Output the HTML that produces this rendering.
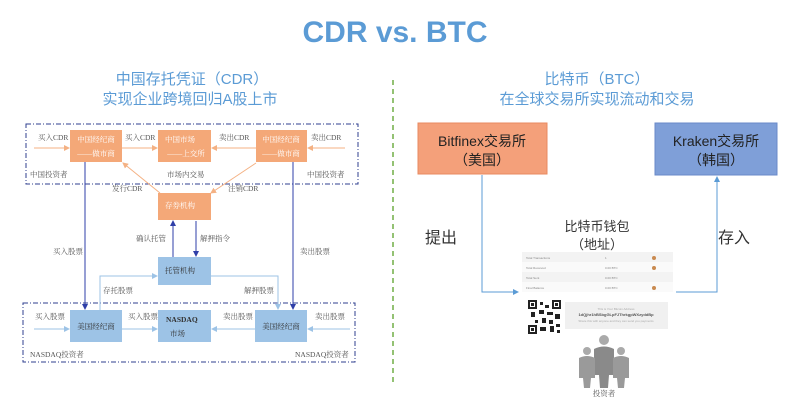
<!DOCTYPE html>
<html><head><meta charset="utf-8"><style>
html,body{margin:0;padding:0;background:#fff;}
svg{display:block;}
.s{font-family:"Liberation Serif","Noto Serif CJK SC",serif;font-size:7.5px;fill:#555;}
.w{font-family:"Liberation Serif","Noto Serif CJK SC",serif;font-size:7.5px;fill:#fff;}
.k{font-family:"Liberation Serif","Noto Serif CJK SC",serif;font-size:7.5px;fill:#333;}
.t{font-family:"Liberation Sans","Noto Sans CJK SC",sans-serif;}
</style></head><body>
<svg width="790" height="401" viewBox="0 0 790 401" xmlns="http://www.w3.org/2000/svg">
<defs>
<marker id="ao" markerWidth="6" markerHeight="6" refX="5" refY="3" orient="auto"><path d="M0,0L6,3L0,6z" fill="#f4b183"/></marker>
<marker id="ab" markerWidth="6" markerHeight="6" refX="5" refY="3" orient="auto"><path d="M0,0L6,3L0,6z" fill="#9dc3e6"/></marker>
<marker id="ad" markerWidth="6" markerHeight="6" refX="5" refY="3" orient="auto"><path d="M0,0L6,3L0,6z" fill="#2f3fa8"/></marker>
<marker id="am" markerWidth="6" markerHeight="6" refX="5" refY="3" orient="auto"><path d="M0,0L6,3L0,6z" fill="#5b9bd5"/></marker>
</defs>
<text x="395" y="42" text-anchor="middle" class="t" font-size="30" font-weight="bold" fill="#5b9bd5">CDR vs. BTC</text>
<text x="192" y="84" text-anchor="middle" class="t" font-size="15" fill="#5b9bd5">中国存托凭证（CDR）</text>
<text x="190" y="104" text-anchor="middle" class="t" font-size="15" fill="#5b9bd5">实现企业跨境回归A股上市</text>
<text x="597" y="84" text-anchor="middle" class="t" font-size="15" fill="#5b9bd5">比特币（BTC）</text>
<text x="597" y="104" text-anchor="middle" class="t" font-size="15" fill="#5b9bd5">在全球交易所实现流动和交易</text>
<line x1="393" y1="80" x2="393" y2="382" stroke="#70ad47" stroke-width="1.5" stroke-dasharray="5,4"/>

<!-- left top dashed box -->
<rect x="26" y="124" width="332" height="60" fill="none" stroke="#2f3f8f" stroke-width="1" stroke-dasharray="5,2,1,2"/>
<rect x="23" y="303" width="332" height="59" fill="none" stroke="#2f3f8f" stroke-width="1" stroke-dasharray="5,2,1,2"/>
<!-- orange boxes -->
<rect x="70" y="130" width="52" height="32" fill="#f4a878"/>
<text x="96" y="142" text-anchor="middle" class="w">中国经纪商</text>
<text x="96" y="156" text-anchor="middle" class="w">——做市商</text>
<rect x="158" y="130" width="53" height="32" fill="#f4a878"/>
<text x="180" y="142" text-anchor="middle" class="w">中国市场</text>
<text x="186" y="156" text-anchor="middle" class="w">——上交所</text>
<rect x="256" y="130" width="51" height="32" fill="#f4a878"/>
<text x="281" y="142" text-anchor="middle" class="w">中国经纪商</text>
<text x="281" y="156" text-anchor="middle" class="w">——做市商</text>
<rect x="158" y="193" width="53" height="27" fill="#f4a878"/>
<text x="180" y="208" text-anchor="middle" class="w">存券机构</text>
<!-- orange arrows -->
<line x1="34" y1="148" x2="69" y2="148" stroke="#f4b183" marker-end="url(#ao)"/>
<line x1="122" y1="148" x2="157" y2="148" stroke="#f4b183" marker-end="url(#ao)"/>
<line x1="256" y1="148" x2="212" y2="148" stroke="#f4b183" marker-end="url(#ao)"/>
<line x1="345" y1="148" x2="308" y2="148" stroke="#f4b183" marker-end="url(#ao)"/>
<line x1="160" y1="193" x2="123" y2="163" stroke="#f4b183" marker-end="url(#ao)"/>
<line x1="256" y1="163" x2="211" y2="193" stroke="#f4b183" marker-end="url(#ao)"/>
<text x="38" y="140" class="s">买入CDR</text>
<text x="125" y="140" class="s">买入CDR</text>
<text x="219" y="140" class="s">卖出CDR</text>
<text x="311" y="140" class="s">卖出CDR</text>
<text x="30" y="177" class="s">中国投资者</text>
<text x="167" y="177" class="s">市场内交易</text>
<text x="307" y="177" class="s">中国投资者</text>
<text x="112" y="191" class="s">发行CDR</text>
<text x="228" y="191" class="s">注销CDR</text>
<!-- blue boxes -->
<rect x="158" y="257" width="53" height="28" fill="#9dc3e6"/>
<text x="180" y="273" text-anchor="middle" class="k">托管机构</text>
<rect x="70" y="310" width="52" height="32" fill="#9dc3e6"/>
<text x="96" y="329" text-anchor="middle" class="k">美国经纪商</text>
<rect x="158" y="310" width="53" height="32" fill="#9dc3e6"/>
<text x="166" y="322" class="k" font-weight="bold">NASDAQ</text>
<text x="170" y="336" class="k">市场</text>
<rect x="255" y="310" width="52" height="32" fill="#9dc3e6"/>
<text x="281" y="329" text-anchor="middle" class="k">美国经纪商</text>
<!-- dark blue lines -->
<line x1="85" y1="162" x2="85" y2="309" stroke="#2f3fa8" marker-end="url(#ad)"/>
<line x1="293" y1="162" x2="293" y2="309" stroke="#2f3fa8" marker-end="url(#ad)"/>
<line x1="173" y1="257" x2="173" y2="221" stroke="#2f3fa8" marker-end="url(#ad)"/>
<line x1="196" y1="221" x2="196" y2="256" stroke="#2f3fa8" marker-end="url(#ad)"/>
<text x="136" y="241" class="s">确认托管</text>
<text x="200" y="241" class="s">解押指令</text>
<text x="53" y="254" class="s">买入股票</text>
<text x="300" y="254" class="s">卖出股票</text>
<!-- light blue arrows -->
<polyline points="100,310 100,276 157,276" fill="none" stroke="#9dc3e6" marker-end="url(#ab)"/>
<polyline points="211,276 278,276 278,309" fill="none" stroke="#9dc3e6" marker-end="url(#ab)"/>
<text x="103" y="293" class="s">存托股票</text>
<text x="244" y="293" class="s">解押股票</text>
<line x1="34" y1="329" x2="69" y2="329" stroke="#9dc3e6" marker-end="url(#ab)"/>
<line x1="122" y1="329" x2="157" y2="329" stroke="#9dc3e6" marker-end="url(#ab)"/>
<line x1="255" y1="329" x2="212" y2="329" stroke="#9dc3e6" marker-end="url(#ab)"/>
<line x1="350" y1="329" x2="308" y2="329" stroke="#9dc3e6" marker-end="url(#ab)"/>
<text x="35" y="319" class="s">买入股票</text>
<text x="128" y="319" class="s">买入股票</text>
<text x="223" y="319" class="s">卖出股票</text>
<text x="315" y="319" class="s">卖出股票</text>
<text x="30" y="357" class="s">NASDAQ投资者</text>
<text x="295" y="357" class="s">NASDAQ投资者</text>

<!-- right side -->
<rect x="418" y="123" width="129" height="51" fill="#f4a07a" stroke="#e88a60"/>
<text x="482" y="146" text-anchor="middle" class="t" font-size="14" fill="#222">Bitfinex交易所</text>
<text x="482" y="165" text-anchor="middle" class="t" font-size="14" fill="#222">（美国）</text>
<rect x="655" y="123" width="122" height="52" fill="#7f9fd8" stroke="#6a8ac8"/>
<text x="716" y="146" text-anchor="middle" class="t" font-size="14" fill="#222">Kraken交易所</text>
<text x="716" y="165" text-anchor="middle" class="t" font-size="14" fill="#222">（韩国）</text>
<polyline points="482,175 482,292 518,292" fill="none" stroke="#5b9bd5" marker-end="url(#am)"/>
<polyline points="676,292 717,292 717,177" fill="none" stroke="#5b9bd5" marker-end="url(#am)"/>
<text x="425" y="243" class="t" font-size="16" fill="#333">提出</text>
<text x="718" y="243" class="t" font-size="16" fill="#333">存入</text>
<text x="597" y="231" text-anchor="middle" class="t" font-size="13" fill="#333">比特币钱包</text>
<text x="597" y="249" text-anchor="middle" class="t" font-size="13" fill="#333">（地址）</text>
<!-- wallet table -->
<rect x="522" y="252" width="151" height="40" fill="#f3f3f3"/>
<rect x="522" y="262" width="151" height="10" fill="#fafafa"/>
<rect x="522" y="282" width="151" height="10" fill="#fafafa"/>
<g font-family="Liberation Sans" font-size="3" fill="#888">
<text x="526" y="259">Total Transactions</text><text x="605" y="259">1</text>
<text x="526" y="269">Total Received</text><text x="605" y="269">0.00 BTC</text>
<text x="526" y="279">Total Sent</text><text x="605" y="279">0.00 BTC</text>
<text x="526" y="289">Final Balance</text><text x="605" y="289">0.00 BTC</text>
</g>
<circle cx="654" cy="258" r="2" fill="#c98a50"/><circle cx="654" cy="268" r="2" fill="#c98a50"/><circle cx="654" cy="288" r="2" fill="#c98a50"/>
<!-- QR -->
<rect x="528" y="300" width="33" height="34" fill="#fff"/>
<g fill="#222">
<rect x="528" y="300" width="9" height="9"/><rect x="552" y="300" width="9" height="9"/><rect x="528" y="325" width="9" height="9"/>
<rect x="540" y="302" width="3" height="3"/><rect x="545" y="305" width="4" height="3"/><rect x="539" y="310" width="5" height="4"/><rect x="531" y="312" width="4" height="5"/><rect x="547" y="312" width="6" height="3"/><rect x="555" y="314" width="5" height="5"/><rect x="542" y="318" width="4" height="5"/><rect x="535" y="320" width="3" height="3"/><rect x="549" y="320" width="4" height="4"/><rect x="540" y="327" width="6" height="4"/><rect x="550" y="326" width="4" height="6"/><rect x="556" y="324" width="4" height="3"/><rect x="557" y="330" width="3" height="3"/>
</g>
<rect x="530" y="302" width="5" height="5" fill="#fff"/><rect x="554" y="302" width="5" height="5" fill="#fff"/><rect x="530" y="327" width="5" height="5" fill="#fff"/>
<rect x="531" y="303" width="3" height="3" fill="#222"/><rect x="555" y="303" width="3" height="3" fill="#222"/><rect x="531" y="328" width="3" height="3" fill="#222"/>
<rect x="565" y="302" width="103" height="27" fill="#f0f0f0"/>
<text x="616" y="310" text-anchor="middle" font-family="Liberation Sans" font-size="3" fill="#aaa">This is Your Bitcoin Address</text>
<text x="616" y="316" text-anchor="middle" font-family="Liberation Sans" font-size="4" font-weight="bold" fill="#555">1dQjhr1hBSbgGLpFJThrkgpWXzyddBp</text>
<text x="616" y="322" text-anchor="middle" font-family="Liberation Sans" font-size="3" fill="#aaa">Share this with anyone and they can send you payments</text>
<!-- people -->
<g fill="#888">
<circle cx="604" cy="340" r="5" fill="#aaa"/>
<path d="M594,349 Q604,344 614,349 L614,375 L609,375 L608,388 L600,388 L599,375 L594,375z" fill="#8a8a8a"/>
<circle cx="587" cy="351" r="4" fill="#aaa"/>
<path d="M579,358 Q587,354 595,358 L595,378 L591,378 L590,388 L584,388 L583,378 L579,378z" fill="#9a9a9a"/>
<circle cx="621" cy="351" r="4" fill="#aaa"/>
<path d="M613,358 Q621,354 629,358 L629,378 L625,378 L624,388 L618,388 L617,378 L613,378z" fill="#9a9a9a"/>
</g>
<text x="604" y="396" text-anchor="middle" class="s" font-size="11" fill="#444">投资者</text>
</svg>
</body></html>
